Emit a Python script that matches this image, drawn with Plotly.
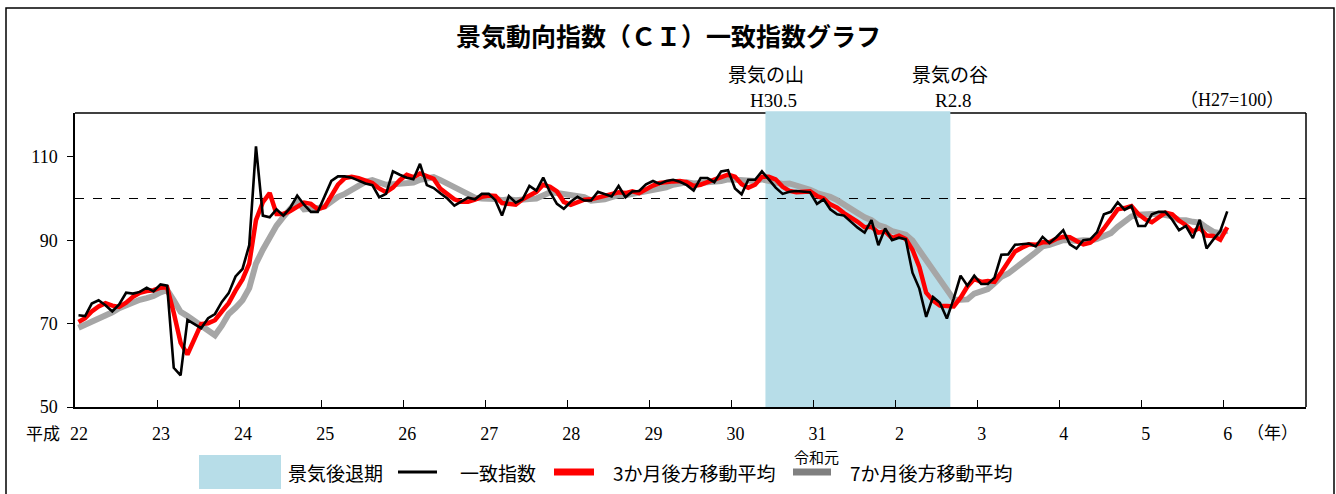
import pandas as pd
import plotly.graph_objects as go

# 景気動向指数（CI）一致指数  平成22年1月～令和6年1月（月次）
ci = [
    72.0, 71.8, 74.8, 75.6, 74.4, 72.9, 74.6, 77.4, 77.2, 77.6, 78.6, 77.7,
    79.4, 79.1, 59.4, 57.6, 70.9, 70.0, 68.9, 71.3, 72.3, 75.2, 77.3, 81.3,
    83.1, 88.8, 112.5, 95.9, 95.5, 97.4, 95.9, 97.8, 100.7, 98.5, 96.8, 96.8,
    100.5, 104.2, 105.3, 105.3, 105.0, 104.3, 103.6, 103.2, 100.3, 101.1, 106.5, 105.7,
    105.0, 104.6, 108.3, 103.2, 102.5, 101.2, 100.0, 98.3, 99.2, 100.2, 99.8, 101.1,
    101.1, 99.6, 95.9, 100.6, 99.0, 99.8, 103.0, 101.9, 105.0, 101.5, 98.7, 97.5,
    99.2, 100.4, 99.5, 99.5, 101.6, 101.1, 100.5, 103.0, 100.3, 101.7, 101.8, 103.4,
    104.2, 103.5, 104.2, 104.5, 104.0, 103.2, 101.9, 104.9, 104.9, 103.9, 106.5, 106.8,
    102.4, 101.0, 104.5, 104.5, 106.5, 104.6, 102.6, 101.1, 101.6, 101.8, 101.7, 101.5,
    98.7, 99.8, 97.4, 96.2, 95.9, 94.4, 93.0, 91.8, 94.8, 88.8, 92.8, 90.0,
    90.6, 90.2, 82.2, 78.4, 71.6, 76.4, 75.0, 71.2, 76.0, 81.5, 79.1, 81.5,
    79.5, 79.5, 81.0, 86.5, 86.6, 88.9, 89.0, 89.2, 88.5, 90.8, 89.3, 90.7,
    92.4, 89.0, 88.0, 90.0, 90.2, 91.9, 96.2, 96.8, 99.1, 97.3, 98.2, 93.4,
    93.4, 96.2, 96.8, 96.8, 94.9, 92.4, 93.4, 90.5, 94.9, 88.0, 90.2, 92.2,
    96.9,
]

# 3か月後方移動平均
ma3 = [
    70.4, 71.3, 72.9, 74.1, 74.9, 74.3, 74.0, 75.0, 76.4, 77.4, 77.8, 78.0,
    78.6, 78.7, 72.6, 65.4, 62.6, 66.2, 69.9, 70.1, 70.8, 72.9, 74.9, 77.9,
    80.6, 84.4, 94.8, 99.1, 101.3, 96.3, 96.3, 97.0, 98.1, 99.0, 98.7, 97.4,
    98.0, 100.5, 103.3, 104.9, 105.2, 104.9, 104.3, 103.7, 102.4, 101.5, 102.6, 104.4,
    105.7, 105.1, 106.0, 105.4, 104.7, 102.3, 101.2, 99.8, 99.2, 99.2, 99.7, 100.4,
    100.7, 100.6, 98.9, 98.7, 98.5, 99.8, 100.6, 101.6, 103.3, 102.8, 101.7, 99.2,
    98.5, 99.0, 99.7, 99.8, 100.2, 100.7, 101.1, 101.5, 101.3, 101.7, 101.3, 102.3,
    103.1, 103.7, 104.0, 104.1, 104.2, 103.9, 103.0, 103.3, 103.9, 104.6, 105.1, 105.7,
    105.2, 103.4, 102.6, 103.3, 105.2, 105.2, 104.6, 102.8, 101.8, 101.5, 101.7, 101.7,
    100.6, 100.0, 98.6, 97.8, 96.5, 95.5, 94.4, 93.1, 93.2, 91.8, 92.1, 90.5,
    91.1, 90.3, 87.7, 83.6, 77.4, 75.5, 74.3, 74.2, 74.1, 76.2, 78.9, 80.7,
    80.0, 80.2, 80.0, 82.3, 84.7, 87.3, 88.2, 89.0, 88.9, 89.5, 89.5, 90.3,
    90.8, 90.7, 89.8, 89.0, 89.4, 90.7, 92.8, 95.0, 97.4, 97.7, 98.2, 96.3,
    95.0, 94.3, 95.5, 96.6, 96.2, 94.7, 93.6, 92.1, 92.9, 91.1, 91.0, 90.1,
    93.1,
]

# 7か月後方移動平均
ma7 = [
    69.0, 69.7, 70.5, 71.3, 72.0, 72.7, 73.7, 74.5, 75.3, 75.7, 76.1, 76.6,
    77.5, 78.1, 75.6, 72.8, 71.8, 70.6, 69.3, 68.2, 67.2, 69.5, 72.3, 73.8,
    75.6, 78.5, 84.4, 87.7, 90.6, 93.5, 95.6, 97.7, 99.4, 97.4, 97.5, 97.7,
    98.1, 99.3, 100.4, 101.1, 102.0, 103.1, 104.0, 104.4, 103.9, 103.3, 103.4, 103.5,
    103.6, 103.8, 104.5, 104.9, 105.1, 104.4, 103.5, 102.6, 101.8, 100.7, 100.2, 100.0,
    100.0, 99.9, 99.6, 99.8, 99.6, 99.6, 99.9, 100.0, 100.7, 101.5, 101.3, 101.1,
    101.0, 100.6, 100.3, 99.5, 99.5, 99.8, 100.3, 100.8, 100.8, 101.1, 101.4, 101.7,
    102.1, 102.6, 102.7, 103.3, 103.7, 103.9, 103.6, 103.7, 103.9, 103.9, 104.2, 104.6,
    104.5, 104.3, 104.3, 104.2, 104.6, 104.3, 103.7, 103.5, 103.6, 103.2, 102.8, 102.1,
    101.3, 100.9, 100.4, 99.6, 98.7, 97.7, 96.5, 95.5, 94.8, 93.6, 93.1, 92.2,
    91.7, 91.3, 89.9, 87.6, 85.1, 82.8, 80.6, 77.9, 75.8, 75.7, 75.8, 77.2,
    77.7, 78.3, 79.7, 81.2, 82.0, 83.4, 84.4, 85.8, 87.1, 88.5, 88.9, 89.5,
    90.0, 90.0, 89.8, 90.0, 89.9, 90.3, 91.1, 91.7, 93.2, 94.5, 95.7, 96.1,
    96.3, 96.3, 96.3, 96.0, 95.7, 94.8, 94.8, 94.4, 94.2, 93.0, 92.0, 91.7,
    92.3,
]

months = pd.date_range("2010-01-01", periods=len(ci), freq="MS")

year_ticks = pd.date_range("2010-01-01", "2024-01-01", freq="YS")
year_labels = ["22", "23", "24", "25", "26", "27", "28", "29", "30",
               "31", "2", "3", "4", "5", "6"]

# 景気後退期（山の翌月～谷の月）
recession_start = "2018-06-01"
recession_end = "2020-09-01"
base_level = 100

W, H = 1336, 494
ML, MR, MT, MB = 75, 30, 113, 87
PW, PH = W - ML - MR, H - MT - MB


def px_x(px):
    return (px - ML) / PW


def px_y(py):
    return (H - MB - py) / PH


SERIF = "Liberation Serif, Noto Sans CJK JP, serif"
JP = "Noto Sans CJK JP, sans-serif"
BLUE = "#B7DDE8"
RED = "#FF0000"
GRAY = "#A6A6A6"

fig = go.Figure()
period = dict(xperiod="M1", xperiodalignment="middle")
fig.add_trace(go.Scatter(x=months, y=ma7, mode="lines", name="7か月後方移動平均",
                         line=dict(color=GRAY, width=6), **period))
fig.add_trace(go.Scatter(x=months, y=ma3, mode="lines", name="3か月後方移動平均",
                         line=dict(color=RED, width=4.5), **period))
fig.add_trace(go.Scatter(x=months, y=ci, mode="lines", name="一致指数",
                         line=dict(color="black", width=2.6), **period))

shapes = [
    # outer frame
    dict(type="rect", xref="paper", yref="paper", x0=px_x(6), x1=px_x(1334),
         y0=px_y(500), y1=px_y(8), line=dict(color="black", width=1.5),
         fillcolor="rgba(0,0,0,0)", layer="below"),
    # plot box top and right
    dict(type="line", xref="paper", yref="paper", x0=0, x1=1, y0=1, y1=1,
         line=dict(color="black", width=1.5), layer="below"),
    dict(type="line", xref="paper", yref="paper", x0=1, x1=1, y0=0, y1=1,
         line=dict(color="black", width=1.5), layer="below"),
    # recession band
    dict(type="rect", xref="x", yref="paper", x0=recession_start, x1=recession_end,
         y0=0, y1=1.006, fillcolor=BLUE, line=dict(width=0), layer="below"),
    # base level
    dict(type="line", xref="paper", yref="y", x0=0, x1=1, y0=base_level, y1=base_level,
         line=dict(color="black", width=1.2, dash="dash"), layer="below"),
    # legend swatches
    dict(type="rect", xref="paper", yref="paper", x0=px_x(199), x1=px_x(281),
         y0=px_y(489), y1=px_y(455), fillcolor=BLUE, line=dict(width=0)),
    dict(type="line", xref="paper", yref="paper", x0=px_x(398), x1=px_x(437),
         y0=px_y(472), y1=px_y(472), line=dict(color="black", width=3)),
    dict(type="line", xref="paper", yref="paper", x0=px_x(554), x1=px_x(594),
         y0=px_y(472), y1=px_y(472), line=dict(color=RED, width=7)),
    dict(type="line", xref="paper", yref="paper", x0=px_x(793), x1=px_x(831),
         y0=px_y(472), y1=px_y(472), line=dict(color="#808080", width=7)),
]


def note(text, x, y, family, size, xanchor="center", weight=None):
    f = dict(family=family, size=size, color="black")
    if weight:
        f["weight"] = weight
    return dict(text=text, xref="paper", yref="paper", x=px_x(x), y=px_y(y),
                xanchor=xanchor, yanchor="middle", showarrow=False, font=f)


annotations = [
    note("景気動向指数（ＣＩ）一致指数グラフ", 668, 35, JP, 25, weight=700),
    note("景気の山", 766, 73, JP, 19),
    note("H30.5", 773, 100, SERIF, 19),
    note("景気の谷", 950, 73, JP, 19),
    note("R2.8", 953, 100, SERIF, 19),
    note("（H27=100）", 1232, 100, SERIF, 18),
    note("平成", 43, 432, JP, 17),
    note("令和元", 816, 456, JP, 15),
    note("（年）", 1272, 431, JP, 17),
    note("景気後退期", 286, 472, JP, 19, xanchor="left"),
    note("一致指数", 458, 472, JP, 19, xanchor="left"),
    note("3か月後方移動平均", 611, 472, JP, 19, xanchor="left"),
    note("7か月後方移動平均", 848, 472, JP, 19, xanchor="left"),
]

fig.update_layout(
    width=W, height=H, autosize=False,
    margin=dict(l=ML, r=MR, t=MT, b=MB, pad=0),
    paper_bgcolor="white", plot_bgcolor="rgba(0,0,0,0)",
    showlegend=False,
    shapes=shapes, annotations=annotations,
    xaxis=dict(
        type="date", range=["2010-01-01", "2025-01-01"],
        tickmode="array", tickvals=year_ticks, ticktext=year_labels,
        ticks="inside", ticklen=7, tickwidth=1.2, tickcolor="black",
        showline=True, linecolor="black", linewidth=1.5,
        showgrid=False, zeroline=False,
        tickfont=dict(family=SERIF, size=18, color="black"),
        ticklabelshift=4, ticklabelstandoff=10,
    ),
    yaxis=dict(
        range=[50, 120.5], tickmode="array", tickvals=[50, 70, 90, 110],
        ticks="outside", ticklen=6, tickwidth=1.2, tickcolor="black",
        showline=True, linecolor="black", linewidth=1.5,
        showgrid=False, zeroline=False,
        tickfont=dict(family=SERIF, size=18, color="black"),
        ticklabelstandoff=6,
    ),
)

fig.write_html("out.html")
